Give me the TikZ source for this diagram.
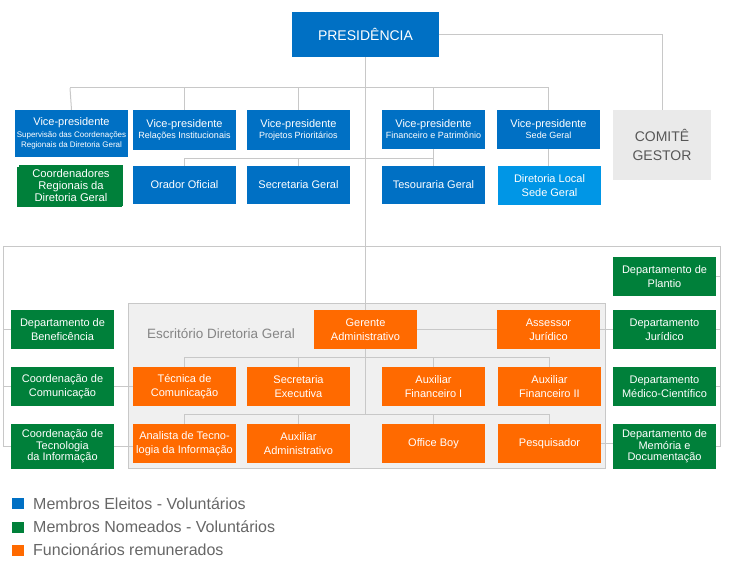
\documentclass[tikz,border=0pt]{standalone}
\usepackage{fontspec}
\setmainfont{Liberation Sans}
\definecolor{cblue}{HTML}{0070C4}
\definecolor{cgreen}{HTML}{00803A}
\definecolor{corange}{HTML}{FF6A00}
\definecolor{clblue}{HTML}{0096E6}
\definecolor{cline}{HTML}{C8C8C8}
\definecolor{cgraybox}{HTML}{EAEAEA}
\definecolor{coffice}{HTML}{F0F0F0}
\definecolor{ctext}{HTML}{666666}
\tikzset{
 base/.style={inner sep=0pt, minimum width=103pt, minimum height=39pt, align=center, text=white, font=\fontsize{11}{14}\selectfont},
 bluebox/.style={base, fill=cblue},
 lbluebox/.style={base, fill=clblue},
 greenbox/.style={base, fill=cgreen},
 orangebox/.style={base, fill=corange},
 conn/.style={draw=cline, line width=1pt},
 legsq/.style={inner sep=0pt, minimum width=12pt, minimum height=11pt},
 legtxt/.style={anchor=west, inner sep=0pt, text=ctext, font=\fontsize{16}{19}\selectfont},
}
\newcommand{\vpsub}{\fontsize{9}{12}\selectfont}
\begin{document}
\begin{tikzpicture}[x=1pt,y=-1pt]
\useasboundingbox (0,0) rectangle (730,572);
% office background
\node[draw=cline, fill=coffice, line width=1pt, minimum width=477pt, minimum height=165pt, inner sep=0pt] (office) at (366.5,385.5) {};
\node[text=ctext!80, font=\fontsize{13.5}{16}\selectfont, inner sep=0pt] (officelbl) at (221,334) {Escritório Diretoria Geral};
% top
\node[bluebox, minimum width=147pt, minimum height=45pt, font=\fontsize{14}{16}\selectfont] (pres) at (365.5,34.5) {PRESIDÊNCIA};
\node[bluebox, minimum width=113pt, minimum height=47pt] (vp1) at (71.5,133.5) {Vice-presidente\\[-2pt]\fontsize{8}{10}\selectfont Supervisão das Coordenações\\[-4pt]\fontsize{8}{10}\selectfont Regionais da Diretoria Geral};
\node[bluebox, minimum height=40pt] (vp2) at (184.5,130) {Vice-presidente\\[-3pt]\vpsub Relações Institucionais};
\node[bluebox, minimum height=40pt] (vp3) at (298.5,130) {Vice-presidente\\[-3pt]\vpsub Projetos Prioritários};
\node[bluebox] (vp4) at (433.5,129.5) {Vice-presidente\\[-3pt]\vpsub Financeiro e Patrimônio};
\node[bluebox] (vp5) at (548.5,129.5) {Vice-presidente\\[-3pt]\vpsub Sede Geral};
\node[base, fill=cgraybox, text=ctext!110, minimum width=98pt, minimum height=70pt, font=\fontsize{14}{19}\selectfont] (comite) at (662,145) {COMITÊ\\GESTOR};
% row 2
\fill[cgreen] (17,167) rectangle (122,207);
\node[greenbox, minimum width=104pt, minimum height=41pt, font=\fontsize{11.2}{12}\selectfont] (coord) at (71,185.5) {Coordenadores\\Regionais da\\Diretoria Geral};
\node[bluebox, minimum height=38pt] (orador) at (184.5,185) {Orador Oficial};
\node[bluebox, minimum height=38pt] (secgeral) at (298.5,185) {Secretaria Geral};
\node[bluebox, minimum height=38pt] (tesouraria) at (433.5,185) {Tesouraria Geral};
\node[lbluebox] (dirlocal) at (549.5,185.5) {Diretoria Local\\Sede Geral};
% office nodes
\node[orangebox] (gerente) at (365.5,329.5) {Gerente\\Administrativo};
\node[orangebox] (assessor) at (548.5,329.5) {Assessor\\Jurídico};
\node[orangebox] (tecnica) at (184.5,386.5) {Técnica de\\Comunicação};
\node[orangebox] (secexec) at (298.5,386.5) {Secretaria\\Executiva};
\node[orangebox] (auxfin1) at (433.5,386.5) {Auxiliar\\Financeiro I};
\node[orangebox] (auxfin2) at (549.5,386.5) {Auxiliar\\Financeiro II};
\node[orangebox] (analista) at (184.5,443.5) {Analista de Tecno-\\logia da Informação};
\node[orangebox] (auxadm) at (298.5,443.5) {Auxiliar\\Administrativo};
\node[orangebox] (officeboy) at (433.5,443.5) {Office Boy};
\node[orangebox] (pesq) at (549.5,443.5) {Pesquisador};
% left green
\node[greenbox] (benef) at (62.5,329.5) {Departamento de\\Beneficência};
\node[greenbox] (comunic) at (62.5,386.5) {Coordenação de\\Comunicação};
\node[greenbox, minimum height=45pt, font=\fontsize{11}{11.5}\selectfont] (tecnol) at (62.5,446.5) {Coordenação de\\Tecnologia\\da Informação};
% right green
\node[greenbox] (plantio) at (664.5,276.5) {Departamento de\\Plantio};
\node[greenbox] (juridico) at (664.5,329.5) {Departamento\\Jurídico};
\node[greenbox] (medico) at (664.5,386.5) {Departamento\\Médico-Científico};
\node[greenbox, minimum height=45pt, font=\fontsize{11}{11.5}\selectfont] (memoria) at (664.5,446.5) {Departamento de\\Memória e\\Documentação};
% connectors
\coordinate (topL) at (70,88);
\coordinate (topR) at (548.5,88);
\coordinate (bigL) at (3,246);
\coordinate (bigR) at (720,246);
\draw[conn] (pres.south) -- (gerente.north);
\draw[conn] (pres.east) -| (comite.north);
\draw[conn] (topL) -- (topR);
\draw[conn] (topL) -- (vp1.north);
\draw[conn] (vp2.north |- topL) -- (vp2.north);
\draw[conn] (vp3.north |- topL) -- (vp3.north);
\draw[conn] (vp4.north |- topL) -- (vp4.north);
\draw[conn] (topR) -- (vp5.north);
\draw[conn] (vp4.south) -- (tesouraria.north);
\draw[conn] (vp5.south) -- (vp5.south |- dirlocal.north);
\coordinate (b2) at (433.5,159);
\draw[conn] (b2) -| (orador.north);
\draw[conn] (b2 -| secgeral.north) -- (secgeral.north);
\draw[conn] (bigL) -- (bigR);
\draw[conn] (bigL) |- (tecnol.west);
\draw[conn] (bigL |- benef.west) -- (benef.west);
\draw[conn] (bigL |- comunic.west) -- (comunic.west);
\draw[conn] (bigR) |- (memoria.east);
\draw[conn] (bigR |- plantio.east) -- (plantio.east);
\draw[conn] (bigR |- juridico.east) -- (juridico.east);
\draw[conn] (bigR |- medico.east) -- (medico.east);
\draw[conn] (gerente.east) -- (assessor.west);
\draw[conn] (assessor.east) -- (juridico.west);
\draw[conn] (comunic.east) -- (tecnica.west);
\draw[conn] (tecnol.east) -- (tecnol.east -| analista.west);
\draw[conn] (pesq.east) -- (pesq.east -| memoria.west);
\coordinate (r3) at (365.5,357);
\coordinate (r4) at (365.5,414);
\draw[conn] (gerente.south) -- (r4);
\draw[conn] (r3 -| tecnica.north) -- (r3 -| auxfin2.north);
\draw[conn] (r4 -| analista.north) -- (r4 -| pesq.north);
\foreach \n in {tecnica,secexec,auxfin1,auxfin2} \draw[conn] (r3 -| \n.north) -- (\n.north);
\foreach \n in {analista,auxadm,officeboy,pesq} \draw[conn] (r4 -| \n.north) -- (\n.north);
% legend
\node[legsq, fill=cblue] (l1) at (18,503.5) {};
\node[legsq, fill=cgreen] (l2) at (18,527) {};
\node[legsq, fill=corange] (l3) at (18,550) {};
\node[legtxt] (t1) at (33,503.5) {Membros Eleitos - Voluntários};
\node[legtxt] (t2) at (33,527) {Membros Nomeados - Voluntários};
\node[legtxt] (t3) at (33,550) {Funcionários remunerados};
\end{tikzpicture}
\end{document}
